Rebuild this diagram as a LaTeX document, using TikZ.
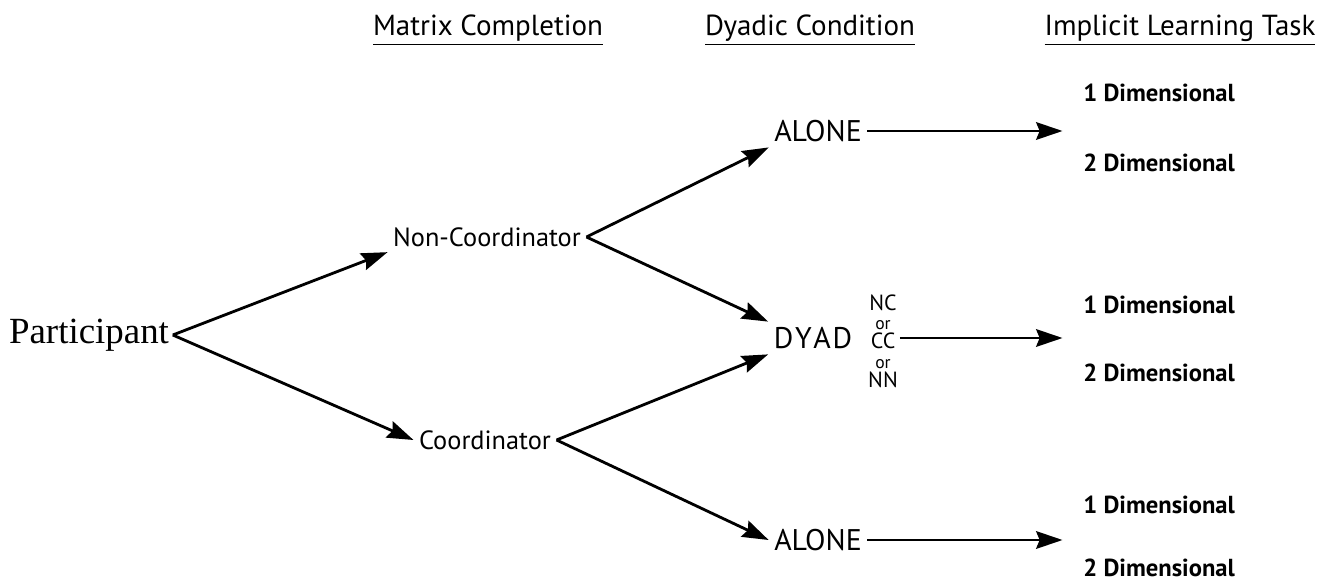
\documentclass[tikz,border=0pt]{standalone}
\usepackage{fontspec}
\setmainfont{Liberation Serif}
\newfontfamily\labelfont{PT Sans}
\usetikzlibrary{arrows.meta}

\begin{document}
\begin{tikzpicture}[>={Stealth[length=15pt,width=10pt,inset=2pt]},
    branch/.style={font=\labelfont\fontsize{15}{17}\selectfont, inner sep=3pt},
    cond/.style={font=\labelfont\fontsize{17}{19}\selectfont, inner sep=3pt},
    header/.style={font=\labelfont\fontsize{16.5}{19}\selectfont},
    dimlabel/.style={anchor=west, font=\labelfont\bfseries\fontsize{14}{16}\selectfont, inner sep=0pt},
    link/.style={->, line width=1.6pt}]
    \useasboundingbox (0,0) rectangle (26.42,11.66);

    % column headers
    \node (hmatrix) at (9.76,11.06) [header] {\underline{Matrix Completion}};
    \node (hdyadic) at (16.2,11.06) [header] {\underline{Dyadic Condition}};
    \node (htask) at (23.6,11.06) [header] {\underline{Implicit Learning Task}};

    % tree
    \node (part) at (1.78,4.96) [font=\fontsize{21}{24}\selectfont, inner sep=2pt] {Participant};
    \node (noncoord) at (9.74,6.92) [branch] {Non-Coordinator};
    \node (coord) at (9.70,2.86) [branch] {Coordinator};

    \node (alonetop) at (16.36,9.04) [cond] {ALONE};
    \node (dyad) at (16.26,4.90) [cond] {D\kern1pt Y\kern1pt A\kern1pt D};
    \node (alonebot) at (16.36,0.86) [cond] {ALONE};
    \node (pairs) at (17.66,4.84) [font=\labelfont\fontsize{12.5}{11}\selectfont, align=center, inner sep=1pt]
        {NC\\{\fontsize{10}{11}\selectfont or}\\CC\\{\fontsize{10}{11}\selectfont or}\\NN};

    \coordinate (ttop) at (21.25,9.04);
    \coordinate (tmid) at (21.25,4.90);
    \coordinate (tbot) at (21.25,0.86);

    \node (dima) at (21.66,9.80) [dimlabel] {1 Dimensional};
    \node (dimb) at (21.66,8.40) [dimlabel] {2 Dimensional};
    \node (dimc) at (21.66,5.56) [dimlabel] {1 Dimensional};
    \node (dimd) at (21.66,4.20) [dimlabel] {2 Dimensional};
    \node (dime) at (21.66,1.56) [dimlabel] {1 Dimensional};
    \node (dimf) at (21.66,0.30) [dimlabel] {2 Dimensional};

    \draw[link] (part.east) -- (noncoord.south west);
    \draw[link] (part.east) -- (coord.west);
    \draw[link] (noncoord.east) -- (alonetop.south west);
    \draw[link] (noncoord.east) -- (dyad.north west);
    \draw[link] (coord.east) -- (dyad.south west);
    \draw[link] (coord.east) -- (alonebot.west);
    \draw[link] (alonetop.east) -- (ttop);
    \draw[link] (pairs.east |- dyad.east) -- (tmid);
    \draw[link] (alonebot.east) -- (tbot);
\end{tikzpicture}
\end{document}
